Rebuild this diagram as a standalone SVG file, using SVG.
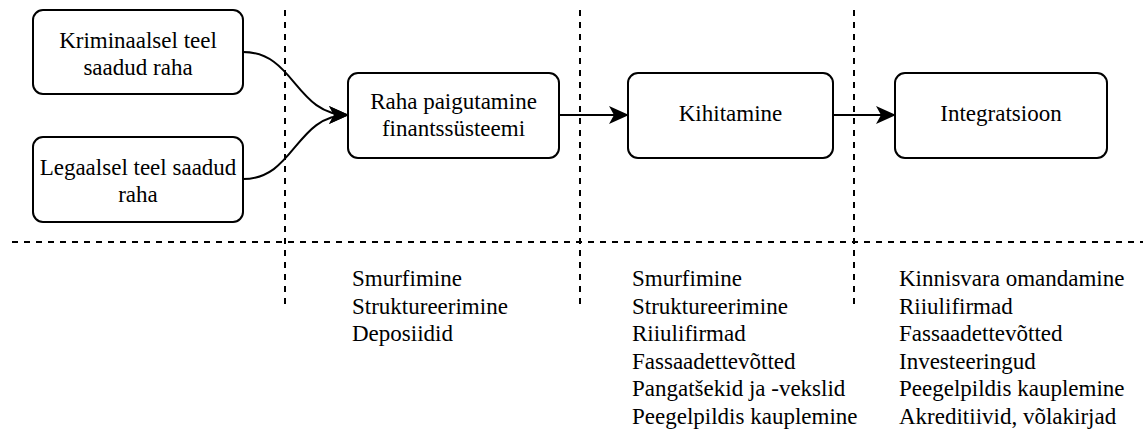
<svg xmlns="http://www.w3.org/2000/svg" width="1143" height="429" viewBox="0 0 1143 429">
  <style>
    .box { fill: #ffffff; stroke: #000000; stroke-width: 2; }
    .mid { text-anchor: middle; }
    .sep { fill: none; stroke: #000000; stroke-width: 2; stroke-dasharray: 6 6; }
    .edge { fill: none; stroke: #000000; stroke-width: 2; marker-end: url(#arrow); }
  </style>
  <defs>
    <marker id="arrow" viewBox="0 0 20 18" refX="19" refY="9" markerWidth="20" markerHeight="18" markerUnits="userSpaceOnUse" orient="auto">
      <path d="M0,0 L20,9 L0,18 L5,9 Z" fill="#000000"/>
    </marker>
  </defs>
  <rect width="1143" height="429" fill="#ffffff"/>

  <!-- phase separators -->
  <g id="separators">
    <line class="sep" x1="285" y1="10" x2="285" y2="305"/>
    <line class="sep" x1="580" y1="10" x2="580" y2="305"/>
    <line class="sep" x1="854" y1="10" x2="854" y2="305"/>
    <line class="sep" x1="12" y1="242" x2="1143" y2="242"/>
  </g>

  <!-- connectors -->
  <g id="connectors">
    <path class="edge" d="M243,52 C295,52 295,115 348,115"/>
    <path class="edge" d="M243,179 C295,179 295,115 348,115"/>
    <path class="edge" d="M559,115 L628,115"/>
    <path class="edge" d="M833,115 L895,115"/>
  </g>

  <g font-family="Liberation Serif, Times New Roman, serif" font-size="23" fill="#000000">
    <g id="criminal-money">
      <rect class="box" x="33" y="10" width="210" height="84" rx="10"/>
      <text class="mid" x="138" y="48">Kriminaalsel teel</text>
      <text class="mid" x="138" y="75">saadud raha</text>
    </g>

    <g id="legal-money">
      <rect class="box" x="33" y="137" width="210" height="85" rx="10"/>
      <text class="mid" x="138" y="175">Legaalsel teel saadud</text>
      <text class="mid" x="138" y="202">raha</text>
    </g>

    <g id="placement">
      <rect class="box" x="348" y="73" width="211" height="85" rx="10"/>
      <text class="mid" x="453.5" y="109">Raha paigutamine</text>
      <text class="mid" x="453.5" y="136">finantssüsteemi</text>
    </g>

    <g id="layering">
      <rect class="box" x="628" y="73" width="205" height="85" rx="10"/>
      <text class="mid" x="730.5" y="121">Kihitamine</text>
    </g>

    <g id="integration">
      <rect class="box" x="895" y="73" width="212" height="85" rx="10"/>
      <text class="mid" x="1001" y="121">Integratsioon</text>
    </g>

    <!-- methods per phase -->
    <g id="placement-methods">
      <text x="352" y="286">Smurfimine</text>
      <text x="352" y="313.5">Struktureerimine</text>
      <text x="352" y="341">Deposiidid</text>
    </g>

    <g id="layering-methods">
      <text x="632" y="286">Smurfimine</text>
      <text x="632" y="313.5">Struktureerimine</text>
      <text x="632" y="341">Riiulifirmad</text>
      <text x="632" y="368.5">Fassaadettevõtted</text>
      <text x="632" y="396">Pangatšekid ja -vekslid</text>
      <text x="632" y="423.5">Peegelpildis kauplemine</text>
    </g>

    <g id="integration-methods">
      <text x="899" y="286">Kinnisvara omandamine</text>
      <text x="899" y="313.5">Riiulifirmad</text>
      <text x="899" y="341">Fassaadettevõtted</text>
      <text x="899" y="368.5">Investeeringud</text>
      <text x="899" y="396">Peegelpildis kauplemine</text>
      <text x="899" y="423.5">Akreditiivid, võlakirjad</text>
    </g>
  </g>
</svg>
